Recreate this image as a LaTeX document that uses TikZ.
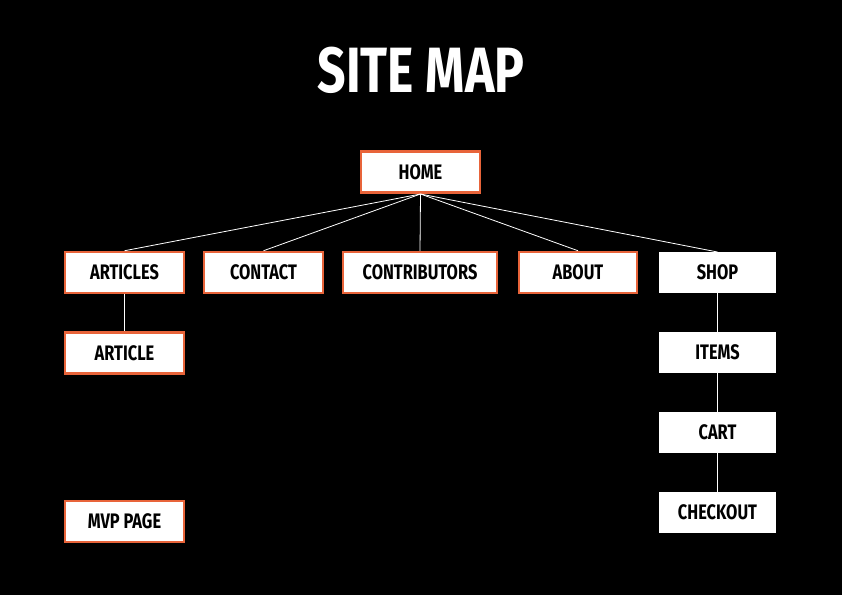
\documentclass[tikz,border=0pt]{standalone}
\usepackage{fontspec}
\setmainfont{Fira Sans}[FakeStretch=0.78]
\definecolor{org}{HTML}{E8643A}
\begin{document}
\begin{tikzpicture}[x=1pt,y=-1pt,
  ob/.style={draw=org,line width=2.5pt,fill=white,minimum height=41pt,inner sep=0pt,font=\bfseries\fontsize{21}{21}\selectfont},
  wb/.style={fill=white,minimum height=41pt,minimum width=117pt,inner sep=0pt,font=\bfseries\fontsize{21}{21}\selectfont},
  ln/.style={white,line width=0.8pt}]
\fill[black] (0,0) rectangle (842,595);
\useasboundingbox (0,0) rectangle (842,595);
\node[white,font=\bfseries\fontsize{64}{64}\selectfont] (title) at (421,70) {SITE MAP};
\node[ob,minimum width=119pt] (home) at (420.5,172) {HOME};
\node[ob,minimum width=119pt] (articles) at (124.5,272.5) {ARTICLES};
\node[ob,minimum width=119pt] (contact) at (263.5,272.5) {CONTACT};
\node[ob,minimum width=154pt] (contrib) at (420,272.5) {CONTRIBUTORS};
\node[ob,minimum width=118pt] (about) at (578,272.5) {ABOUT};
\node[ob,minimum width=119pt] (article) at (124.5,353) {ARTICLE};
\node[ob,minimum width=119pt] (mvp) at (124.5,521.5) {MVP PAGE};
\coordinate (h) at (420.5,194);
\draw[ln] (h) -- (articles.north);
\draw[ln] (h) -- (contact.north);
\draw[ln] (h) -- (contrib.north);
\draw[ln] (h) -- (about.north);
\draw[ln] (articles.south) -- (article.north);
\coordinate (st) at (717.5,252);
\coordinate (sb) at (717.5,512);
\draw[ln] (h) -- (st);
\draw[ln] (st) -- (sb);
\node[wb] (shop) at (717.5,272.5) {SHOP};
\node[wb] (items) at (717.5,352.5) {ITEMS};
\node[wb] (cart) at (717.5,432.5) {CART};
\node[wb] (checkout) at (717.5,512.5) {CHECKOUT};
\end{tikzpicture}
\end{document}
